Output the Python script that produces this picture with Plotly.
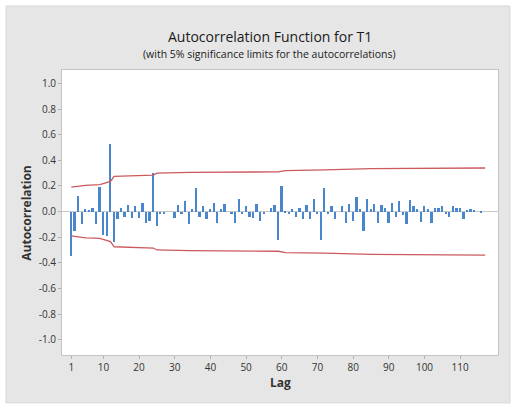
import plotly.graph_objects as go

# ---- data ----
lags = list(range(1, 117))
acf = [
    -0.35, -0.15, 0.12, -0.10, 0.02, 0.005, 0.03, -0.10, 0.19, -0.18,
    -0.19, 0.53, -0.24, -0.06, 0.03, -0.04, 0.05, -0.05, 0.04, -0.05,
    0.07, -0.09, -0.07, 0.30, -0.11, -0.02, -0.02, 0.0, 0.0, -0.05,
    0.05, -0.02, 0.08, -0.10, 0.02, 0.18, -0.04, 0.04, -0.06, 0.02,
    0.07, -0.09, 0.02, 0.06, 0.0, -0.02, -0.09, 0.10, -0.02, 0.04,
    -0.04, -0.05, 0.06, -0.07, -0.02, 0.0, 0.03, 0.05, -0.22, 0.20,
    -0.01, -0.02, 0.02, -0.04, 0.03, -0.06, 0.05, -0.06, 0.10, -0.02,
    -0.22, 0.18, -0.02, 0.04, -0.06, 0.0, 0.04, -0.09, 0.06, -0.07,
    0.11, 0.02, -0.15, 0.10, 0.02, 0.06, -0.09, 0.05, 0.03, -0.09,
    0.07, -0.04, 0.08, -0.03, -0.10, 0.09, 0.04, 0.02, -0.08, 0.04,
    0.02, -0.09, 0.03, 0.03, 0.04, -0.02, -0.04, 0.04, 0.03, 0.03,
    -0.06, 0.01, 0.02, 0.005, 0.0, -0.01,
]

limit_lags = [1, 5, 9, 11, 12, 13, 24, 25, 34, 59, 61, 72, 85, 117]
upper_limit = [0.19, 0.205, 0.21, 0.225, 0.235, 0.275, 0.285, 0.30, 0.305,
               0.31, 0.32, 0.325, 0.335, 0.34]
lower_limit = [-0.19, -0.205, -0.21, -0.225, -0.235, -0.275, -0.285, -0.30,
               -0.305, -0.31, -0.32, -0.325, -0.335, -0.34]

x_ticks = [1, 10, 20, 30, 40, 50, 60, 70, 80, 90, 100, 110]
y_ticks = [1.0, 0.8, 0.6, 0.4, 0.2, 0.0, -0.2, -0.4, -0.6, -0.8, -1.0]

FONT = "Open Sans"
BAR = "#4a86cc"
RED = "#cc5a5e"

fig = go.Figure()
fig.add_trace(go.Bar(x=lags, y=acf, width=0.5, marker=dict(color=BAR, line=dict(width=0)),
                     showlegend=False))
fig.add_trace(go.Scatter(x=limit_lags, y=upper_limit, mode="lines",
                         line=dict(color=RED, width=1.3), showlegend=False))
fig.add_trace(go.Scatter(x=limit_lags, y=lower_limit, mode="lines",
                         line=dict(color=RED, width=1.3), showlegend=False))

fig.update_layout(
    width=516, height=405,
    margin=dict(l=62, r=18, t=70, b=50),
    paper_bgcolor="white", plot_bgcolor="white",
    font=dict(family=FONT, color="#333333"),
    bargap=0,
    shapes=[
        dict(type="rect", xref="paper", yref="paper", x0=-0.1284, x1=1.0275,
             y0=-0.168, y1=1.2246, fillcolor="#e6e6e6",
             line=dict(color="#d8d8d8", width=1), layer="below"),
        dict(type="rect", xref="paper", yref="paper", x0=0, x1=1, y0=0, y1=1,
             fillcolor="white", line=dict(width=0), layer="below"),
    ],
    annotations=[
        dict(text="Autocorrelation Function for T1", xref="paper", yref="paper",
             x=0.477, y=1.118, showarrow=False, xanchor="center", yanchor="middle",
             font=dict(size=14, color="#1a1a1a", family=FONT)),
        dict(text="(with 5% significance limits for the autocorrelations)",
             xref="paper", yref="paper", x=0.475, y=1.056, showarrow=False,
             xanchor="center", yanchor="middle",
             font=dict(size=10.5, color="#1a1a1a", family=FONT)),
        dict(text="<b>Autocorrelation</b>", xref="paper", yref="paper", x=-0.082, y=0.5,
             textangle=-90, showarrow=False, xanchor="center", yanchor="middle",
             font=dict(size=12, color="#333333", family=FONT)),
        dict(text="<b>Lag</b>", xref="paper", yref="paper", x=0.5, y=-0.098,
             showarrow=False, xanchor="center", yanchor="middle",
             font=dict(size=12, color="#333333", family=FONT)),
    ],
)

fig.update_xaxes(range=[-1.6, 120.6], tickvals=x_ticks, ticktext=[str(t) for t in x_ticks],
                 showgrid=False, zeroline=False, showline=True, mirror=True,
                 linecolor="#c4c4c4", linewidth=1, ticks="outside", ticklen=3,
                 tickcolor="#b0b0b0", tickfont=dict(size=10, color="#333333"))
fig.update_yaxes(range=[-1.12, 1.105], tickvals=y_ticks,
                 ticktext=[f"{t:.1f}" for t in y_ticks],
                 showgrid=False, zeroline=True, zerolinecolor="#c8c8c8", zerolinewidth=1,
                 showline=True, mirror=True, linecolor="#c4c4c4", linewidth=1,
                 ticks="outside", ticklen=3, tickcolor="#b0b0b0",
                 tickfont=dict(size=10, color="#333333"))

fig.write_html("out.html", config={"displayModeBar": False},
               post_script="document.body.style.margin='0';document.body.style.overflow='hidden';")
